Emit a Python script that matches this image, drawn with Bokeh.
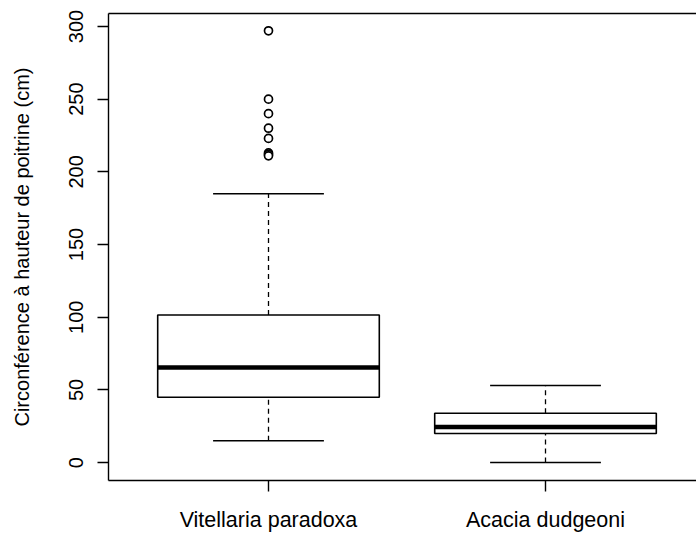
import numpy as np
from bokeh.plotting import figure
from bokeh.models import FixedTicker, LinearAxis, Range1d
from bokeh.embed import file_html
from bokeh.resources import INLINE

# ---- data ----
categories = ["Vitellaria paradoxa", "Acacia dudgeoni"]
positions = [1, 2]
lower_whisker = [15, 0]
q1 = [45, 20]
median = [65.5, 24.5]
q3 = [101.5, 34]
upper_whisker = [185, 53]
outlier_group = [1, 1, 1, 1, 1, 1, 1, 1]
outlier_values = [297, 250, 240, 230, 223, 213, 212, 211]
y_ticks = [0, 50, 100, 150, 200, 250, 300]

FONT = "Liberation Sans"
FS_Y = "20px"
FS_X = "21.5px"
BOXW = 0.8
STAPLE = 0.4

pos = np.array(positions, dtype=float)

p = figure(width=696, height=534, output_backend="svg", toolbar_location=None,
           x_range=Range1d(0.4224, 2.5451), y_range=Range1d(-12.3, 308.9),
           min_border_left=108, min_border_right=0, min_border_top=13, min_border_bottom=53)
p.outline_line_color = None
p.xgrid.visible = False
p.ygrid.visible = False
p.background_fill_color = "white"
p.border_fill_color = "white"

# whiskers (dashed)
p.segment(x0=pos, y0=q3, x1=pos, y1=upper_whisker, line_color="black",
          line_width=1.3, line_dash="5 4")
p.segment(x0=pos, y0=lower_whisker, x1=pos, y1=q1, line_color="black",
          line_width=1.3, line_dash="5 4")
# staples
p.segment(x0=pos - STAPLE / 2, y0=upper_whisker, x1=pos + STAPLE / 2, y1=upper_whisker,
          line_color="black", line_width=1.5)
p.segment(x0=pos - STAPLE / 2, y0=lower_whisker, x1=pos + STAPLE / 2, y1=lower_whisker,
          line_color="black", line_width=1.5)
# boxes
p.vbar(x=pos, width=BOXW, bottom=q1, top=q3, fill_color="white",
       line_color="black", line_width=1.6)
# medians
p.segment(x0=pos - BOXW / 2, y0=median, x1=pos + BOXW / 2, y1=median,
          line_color="black", line_width=4.5)
# outliers
p.scatter(x=outlier_group, y=outlier_values, marker="circle", size=8,
          fill_color="white", line_color="black", line_width=1.7)

# y axis
ya = p.yaxis[0]
ya.ticker = FixedTicker(ticks=y_ticks)
ya.minor_tick_line_color = None
ya.major_tick_in = 0
ya.major_tick_out = 11
ya.major_tick_line_width = 1.4
ya.axis_line_width = 1.4
ya.major_label_orientation = "vertical"
ya.major_label_standoff = 14
ya.major_label_text_font = FONT
ya.major_label_text_font_size = FS_Y
ya.major_label_text_color = "black"
ya.axis_label = "Circonférence à hauteur de poitrine (cm)"
ya.axis_label_text_font = FONT
ya.axis_label_text_font_size = FS_Y
ya.axis_label_text_font_style = "normal"
ya.axis_label_text_color = "black"
ya.axis_label_standoff = 34

# x axis
xa = p.xaxis[0]
xa.ticker = FixedTicker(ticks=positions)
xa.major_label_overrides = {pt: c for pt, c in zip(positions, categories)}
xa.minor_tick_line_color = None
xa.major_tick_in = 0
xa.major_tick_out = 11
xa.major_tick_line_width = 1.4
xa.axis_line_width = 1.4
xa.major_label_standoff = 16
xa.major_label_text_font = FONT
xa.major_label_text_font_size = FS_X
xa.major_label_text_color = "black"

# top frame line
top = LinearAxis(ticker=FixedTicker(ticks=[]), major_label_text_font_size="0px",
                 axis_line_width=1.4, major_tick_line_color=None,
                 minor_tick_line_color=None)
p.add_layout(top, "above")

open("out.html", "w").write(file_html(p, INLINE))
